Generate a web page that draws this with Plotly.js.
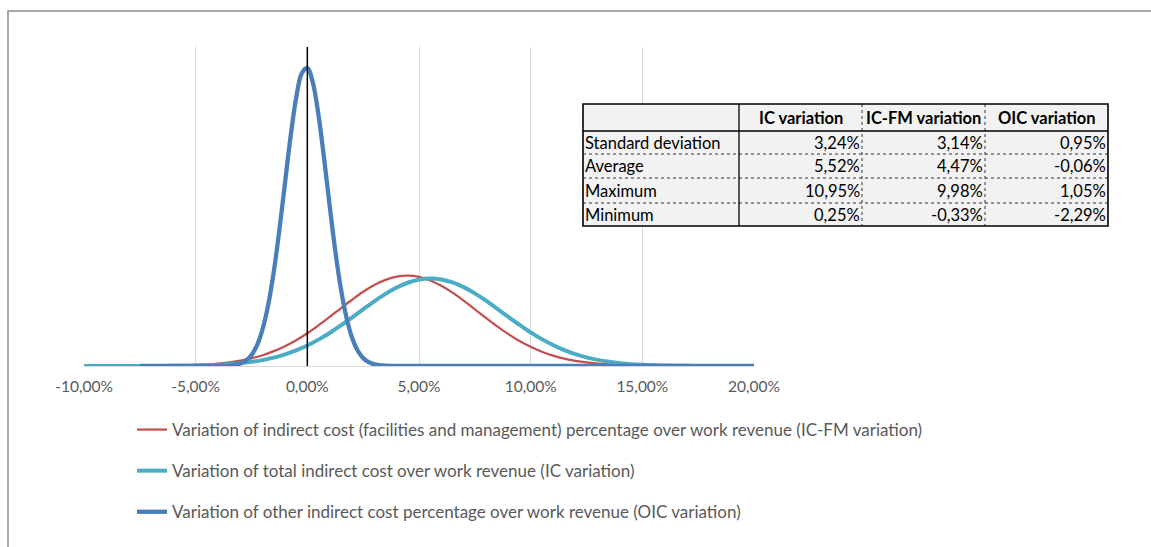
<!DOCTYPE html>
<html>
<head>
<meta charset="utf-8">
<script src="https://cdn.plot.ly/plotly-3.0.1.min.js"></script>
<style>html,body{margin:0;padding:0;background:#fff;}#chart{width:1151px;height:547px;}</style>
</head>
<body>
<div id="chart"></div>
<script>
// ---- Data ----
const seriesNames = [
  'Variation of indirect cost (facilities and management) percentage over work revenue (IC-FM variation)',
  'Variation of total indirect cost over work revenue (IC variation)',
  'Variation of other indirect cost percentage over work revenue (OIC variation)'
];

const icfmX = [-7.5,-6,-5,-4,-3,-2.5,-2,-1.5,-1,-0.5,0,0.5,1,1.5,2,2.5,3,3.5,4,4.5,5,5.5,6,6.5,7,7.5,8,8.5,9,9.5,10,10.5,11,11.5,12,13,14,15,16,20];
const icfmY = [0.0001,0.0005,0.0013,0.0033,0.0075,0.0108,0.0152,0.0209,0.0279,0.0363,0.0461,0.0572,0.0690,0.0812,0.0932,0.1044,0.1139,0.1211,0.1257,0.1271,0.1253,0.1204,0.1128,0.1031,0.0919,0.0798,0.0676,0.0558,0.0449,0.0352,0.0270,0.0201,0.0146,0.0104,0.0072,0.0032,0.0013,0.0005,0.0001,0];

const icX = [-10,-7,-6,-5,-4,-3,-2.5,-2,-1.5,-1,-0.5,0,0.5,1,1.5,2,2.5,3,3.5,4,4.5,5,5.5,6,6.5,7,7.5,8,8.5,9,9.5,10,10.5,11,11.5,12,12.5,13,13.5,14,15,16,17,18,20];
const icY = [0,0.0001,0.0002,0.0006,0.0016,0.0039,0.0058,0.0083,0.0118,0.0163,0.0219,0.0288,0.0371,0.0465,0.0570,0.0682,0.0797,0.0910,0.1014,0.1103,0.1171,0.1215,0.1231,0.1218,0.1176,0.1109,0.1021,0.0919,0.0806,0.0691,0.0579,0.0473,0.0378,0.0295,0.0224,0.0167,0.0121,0.0086,0.0059,0.0040,0.0017,0.0007,0.0002,0.0001,0];

const oicX = [-7.5,-5,-4.5,-4,-3.5,-3,-2.75,-2.5,-2.25,-2,-1.75,-1.5,-1.25,-1,-0.75,-0.5,-0.25,0,0.25,0.5,0.75,1,1.25,1.5,1.75,2,2.25,2.5,2.75,3,3.5,4,4.5,5,10,15,20];
const oicY = [0,0,0,0.0001,0.0006,0.0035,0.0076,0.0155,0.0295,0.0522,0.0863,0.1331,0.1915,0.2575,0.3226,0.3772,0.4116,0.4191,0.3981,0.3529,0.2919,0.2253,0.1622,0.1091,0.0684,0.0400,0.0218,0.0111,0.0053,0.0023,0.0004,0.0001,0,0,0,0,0];

const tickVals = [-10,-5,0,5,10,15,20];
const tickText = ['-10,00%','-5,00%','0,00%','5,00%','10,00%','15,00%','20,00%'];

const tableHeader = ['IC variation','IC-FM variation','OIC variation'];
const tableRowLabels = ['Standard deviation','Average','Maximum','Minimum'];
const colIC = ['3,24%','5,52%','10,95%','0,25%'];
const colICFM = ['3,14%','4,47%','9,98%','-0,33%'];
const colOIC = ['0,95%','-0,06%','1,05%','-2,29%'];

// ---- Layout geometry (pixels) ----
const W = 1151, H = 547;
const L = 84, R = 754, T = 47, B = 366;
const px = (x) => (x - L) / (R - L);
const py = (y) => (B - y) / (B - T);

const FONT = 'Lato, "Open Sans", sans-serif';

const traces = [
  {x: icfmX, y: icfmY, name: seriesNames[0], mode: 'lines', legendgroup: 'a',
   line: {color: '#c0504d', width: 2.2, shape: 'spline', smoothing: 1}},
  {x: icX, y: icY, name: seriesNames[1], mode: 'lines', legendgroup: 'b',
   line: {color: '#4bacc6', width: 4, shape: 'spline', smoothing: 1}},
  {x: oicX, y: oicY, name: seriesNames[2], mode: 'lines', legendgroup: 'c',
   line: {color: '#4a7ebb', width: 4.3, shape: 'spline', smoothing: 1}}
];

const shapes = [];
const annotations = [];

// outer chart frame (top and left edges)
shapes.push({type: 'path', xref: 'paper', yref: 'paper',
  path: `M ${px(8)} ${py(560)} L ${px(8)} ${py(11)} L ${px(1160)} ${py(11)}`,
  line: {color: '#8c8c8c', width: 1.5}});

// vertical black line at 0
shapes.push({type: 'line', xref: 'x', yref: 'paper', x0: 0, x1: 0, y0: 0, y1: 1,
  line: {color: '#000000', width: 1.5}, layer: 'above'});

// table
const tL = 583, tR = 1108, tT = 104, tB = 226;
const colEdges = [583, 739, 862, 985, 1108];
const rowEdges = [104, 131, 154, 178, 203, 226];
shapes.push({type: 'rect', xref: 'paper', yref: 'paper', x0: px(tL), x1: px(tR), y0: py(tT), y1: py(tB),
  fillcolor: '#f2f2f2', line: {width: 0}});
for (let i = 2; i < rowEdges.length - 1; i++) {
  shapes.push({type: 'line', xref: 'paper', yref: 'paper', x0: px(tL), x1: px(tR), y0: py(rowEdges[i]), y1: py(rowEdges[i]),
    line: {color: '#333', width: 1, dash: 'dot'}});
}
for (let j = 2; j < colEdges.length - 1; j++) {
  shapes.push({type: 'line', xref: 'paper', yref: 'paper', x0: px(colEdges[j]), x1: px(colEdges[j]), y0: py(tT), y1: py(tB),
    line: {color: '#333', width: 1, dash: 'dot'}});
}
shapes.push({type: 'line', xref: 'paper', yref: 'paper', x0: px(tL), x1: px(tR), y0: py(rowEdges[1]), y1: py(rowEdges[1]),
  line: {color: '#000', width: 1.3}});
shapes.push({type: 'line', xref: 'paper', yref: 'paper', x0: px(colEdges[1]), x1: px(colEdges[1]), y0: py(tT), y1: py(tB),
  line: {color: '#000', width: 1.3}});
shapes.push({type: 'rect', xref: 'paper', yref: 'paper', x0: px(tL), x1: px(tR), y0: py(tT), y1: py(tB),
  line: {color: '#000', width: 1.6}});

const tfont = {family: FONT, size: 16.5, color: '#000'};
tableHeader.forEach((h, j) => {
  const cx = (colEdges[j + 1] + colEdges[j + 2]) / 2;
  const cy = (rowEdges[0] + rowEdges[1]) / 2;
  annotations.push({xref: 'paper', yref: 'paper', x: px(cx), y: py(cy), text: '<b>' + h + '</b>',
    showarrow: false, xanchor: 'center', yanchor: 'middle', font: tfont});
});
const cols = [colIC, colICFM, colOIC];
tableRowLabels.forEach((lab, i) => {
  const cy = (rowEdges[i + 1] + rowEdges[i + 2]) / 2;
  annotations.push({xref: 'paper', yref: 'paper', x: px(colEdges[0]), y: py(cy), text: lab,
    showarrow: false, xanchor: 'left', yanchor: 'middle', font: tfont});
  cols.forEach((c, j) => {
    annotations.push({xref: 'paper', yref: 'paper', x: px(colEdges[j + 2]), y: py(cy), text: c[i],
      showarrow: false, xanchor: 'right', yanchor: 'middle', font: tfont});
  });
});

const layout = {
  width: W, height: H,
  margin: {l: L, r: W - R, t: T, b: H - B, pad: 0},
  paper_bgcolor: '#fff', plot_bgcolor: '#fff',
  font: {family: FONT, color: '#595959'},
  showlegend: true,
  legend: {x: px(132), y: py(412), xanchor: 'left', yanchor: 'top', orientation: 'v',
    font: {family: FONT, size: 17, color: '#595959'}, tracegroupgap: 16, bgcolor: 'rgba(0,0,0,0)'},
  xaxis: {range: [-10, 20], tickvals: tickVals, ticktext: tickText, showgrid: true, gridcolor: '#d9d9d9', gridwidth: 1,
    zeroline: false, showline: true, linecolor: '#d9d9d9', linewidth: 1, ticks: '', ticklabelstandoff: 6,
    tickfont: {family: FONT, size: 15.5, color: '#595959'}, fixedrange: true},
  yaxis: {range: [0, 0.4487], showgrid: false, zeroline: false, showline: false, showticklabels: false, ticks: '', fixedrange: true},
  shapes: shapes,
  annotations: annotations
};

Plotly.newPlot('chart', traces, layout, {displayModeBar: false, staticPlot: true});
</script>
</body>
</html>
